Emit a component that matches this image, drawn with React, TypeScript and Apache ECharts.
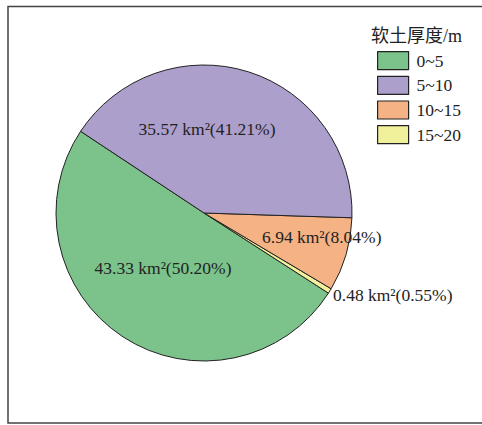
import React, { useEffect, useRef } from "react";
import * as echarts from "echarts";

const categories = ["0~5", "5~10", "10~15", "15~20"];
const areas = [43.33, 35.57, 6.94, 0.48];
const percents = [50.2, 41.21, 8.04, 0.55];
const colors = ["#7BC38A", "#AD9FCB", "#F5B284", "#F1F19C"];
const drawOrder = [0, 3, 2, 1];
const legendTitle = "软土厚度/m";

// label anchor positions (pixels) per category, for text only
const labelSpots: { x: number; y: number; align: string }[] = [
  { x: 163, y: 268, align: "center" },
  { x: 207, y: 129, align: "center" },
  { x: 262, y: 237, align: "left" },
  { x: 333, y: 295, align: "left" },
];

const SERIF = "'Liberation Serif', 'Times New Roman', 'Noto Sans CJK SC', serif";

export default function App() {
  const ref = useRef<HTMLDivElement>(null);
  useEffect(() => {
    if (!ref.current) return;
    const chart = echarts.init(ref.current, undefined, { renderer: "svg" });
    const data = drawOrder.map((i) => ({
      name: categories[i],
      value: areas[i],
      itemStyle: { color: colors[i] },
    }));
    chart.setOption({
      animation: false,
      backgroundColor: "#ffffff",
      title: {
        text: legendTitle,
        left: 371,
        top: 27,
        padding: 0,
        textStyle: { fontSize: 18, fontWeight: "normal", color: "#222", fontFamily: SERIF },
      },
      legend: {
        data: categories,
        orient: "vertical",
        left: 377,
        top: 51,
        padding: 0,
        itemWidth: 31,
        itemHeight: 18,
        itemGap: 5.5,
        icon: "rect",
        itemStyle: { borderColor: "#222", borderWidth: 1.2 },
        textStyle: { fontSize: 17.5, color: "#222", fontFamily: SERIF, padding: [0, 0, 0, 3] },
      },
      graphic: [
        {
          type: "rect",
          shape: { x: 8, y: 6.5, width: 500, height: 416.5 },
          style: { fill: "none", stroke: "#444", lineWidth: 1.5 },
          silent: true,
          z: 10,
        },
      ],
      series: [
        {
          type: "pie",
          center: [204, 213],
          radius: 148,
          startAngle: 146.5,
          clockwise: false,
          data,
          itemStyle: { borderColor: "#222", borderWidth: 1 },
          label: {
            show: true,
            position: "inside",
            fontSize: 17.5,
            color: "#222",
            fontFamily: SERIF,
            formatter: (p: any) => {
              const i = categories.indexOf(p.name);
              return `${areas[i].toFixed(2)} km²(${percents[i].toFixed(2)}%)`;
            },
          },
          labelLine: { show: false },
          labelLayout: (p: any) => {
            const s = labelSpots[drawOrder[p.dataIndex]];
            return { x: s.x, y: s.y, align: s.align, verticalAlign: "middle" };
          },
          emphasis: { disabled: true },
        },
      ],
    });
    return () => chart.dispose();
  }, []);
  return (
    <div
      ref={ref}
      style={{ position: "fixed", left: 0, top: 0, width: 482, height: 425 }}
    />
  );
}
